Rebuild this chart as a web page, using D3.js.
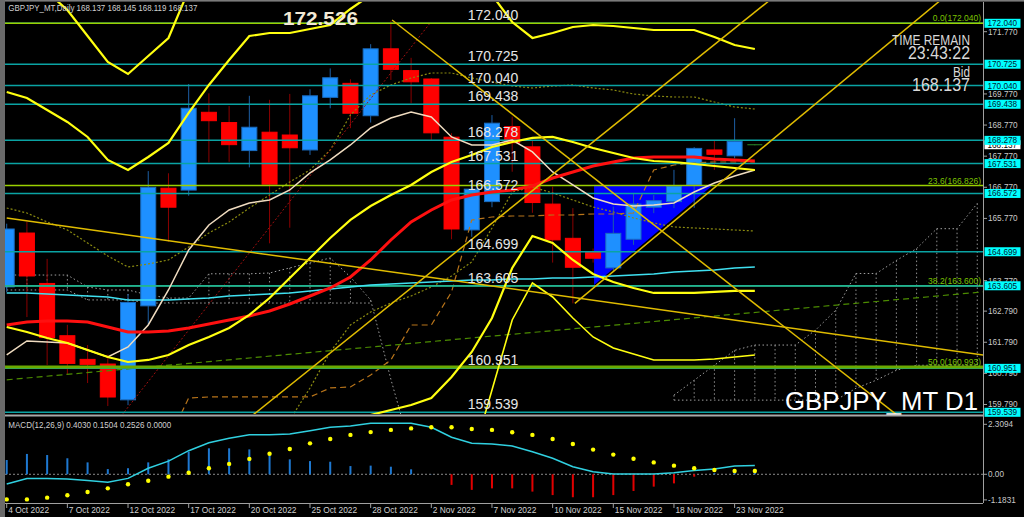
<!DOCTYPE html>
<html><head><meta charset="utf-8">
<script src="https://cdn.jsdelivr.net/npm/d3@7"></script>
<style>
html,body{margin:0;padding:0;background:#000;overflow:hidden;}
svg{display:block;}
text{font-family:"Liberation Sans",Arial,sans-serif;}
</style></head><body>
<svg id="c" width="1024" height="517"></svg>
<script>
// ---------------- DATA ----------------
const tickIdx = [0,3,6,9,12,15,18,21,24,27,30,33,36];
const tickLabels = ["4 Oct 2022","7 Oct 2022","12 Oct 2022","17 Oct 2022","20 Oct 2022","25 Oct 2022","28 Oct 2022","2 Nov 2022","7 Nov 2022","10 Nov 2022","15 Nov 2022","18 Nov 2022","23 Nov 2022"];
const open  = [163.57,165.30,163.68,162.00,161.24,161.09,159.94,162.96,166.74,166.68,169.18,168.85,167.95,168.54,168.45,167.97,169.66,170.11,169.07,171.22,170.52,170.25,168.38,165.40,166.31,168.72,168.07,166.23,165.13,164.67,164.18,165.10,166.13,166.31,166.84,167.97,167.78,168.137];
const high  = [165.60,165.66,164.47,162.35,161.70,161.39,163.34,167.29,167.22,170.09,169.79,169.38,169.71,169.58,169.77,169.92,170.59,170.24,171.37,172.12,170.93,170.28,168.51,166.81,169.09,169.04,168.31,166.79,166.10,164.80,166.15,166.59,166.52,167.33,168.06,168.27,168.99,168.145];
const low   = [163.40,162.60,161.06,160.77,160.48,159.74,159.77,162.35,165.02,166.50,167.57,167.59,167.41,164.97,165.47,167.81,169.31,168.67,168.85,170.22,169.47,168.29,165.10,165.18,166.13,167.27,165.95,164.35,163.04,164.35,164.05,164.92,165.94,166.10,166.11,167.33,167.70,168.119];
const close = [165.43,163.92,161.94,161.11,161.08,160.03,163.07,166.77,166.13,169.31,168.91,168.14,168.70,166.87,168.04,169.71,170.29,169.15,171.22,170.56,170.16,168.52,165.43,166.71,168.83,168.20,166.28,165.08,164.20,164.49,165.29,166.23,166.34,166.81,168.02,167.83,168.24,168.137];

const levels = [172.040,170.725,170.040,169.438,168.278,167.531,166.572,164.699,163.605,160.951,159.539];
const fibLevels = [172.040,166.826,163.600,160.993];
const fibLabels = ["0.0(172.040)","23.6(166.826)","38.2(163.600)","50.0(160.993)"];
const axisTicks = [171.770,169.770,168.770,167.770,166.770,165.770,163.770,162.790,161.790,160.790,159.790];
const bidPrice = 168.137;
const peakLabel = "172.526";

// indicator lines (price per bar, null = not drawn)
const bandA = [174.074,173.592,173.046,172.468,171.632,170.797,170.411,170.989,171.568,173.110,174.717];
const bandB = [169.833,169.640,169.254,168.869,168.387,167.648,167.326,167.744,168.194,169.158,170.058,170.861,171.632,171.729,171.729,171.857,171.986,172.500,172.950,173.432,173.753,173.753,173.592,173.271,172.950,172.082,171.568,171.729,171.921,171.986,171.954,171.889,171.825,171.825,171.825,171.600,171.343,171.214];
const bandC = [162.281,162.121,161.928,161.767,161.542,161.317,161.156,161.221,161.381,161.703,161.960,162.249,162.667,163.213,163.856,164.498,165.141,165.720,166.169,166.523,166.844,167.262,167.583,167.808,168.065,168.226,168.355,168.387,168.226,168.033,167.872,167.712,167.615,167.583,167.519,167.455,167.390,167.326];
const bandE = [null,null,null,null,null,null,null,null,null,null,null,null,null,null,null,null,null,158.971,159.453,159.614,159.775,160.000,160.674,161.478,162.570,164.177,165.205,164.980,164.434,163.984,163.727,163.534,163.374,163.374,163.374,163.406,163.438,163.438];
const bandF = [null,null,null,null,null,null,null,null,null,null,null,null,null,null,null,null,null,null,null,null,null,null,null,158.007,160.257,162.506,163.695,163.245,162.570,161.960,161.606,161.414,161.221,161.221,161.221,161.253,161.317,161.381];
const maRed = [162.345,162.442,162.474,162.474,162.442,162.281,162.121,162.121,162.153,162.249,162.378,162.506,162.635,162.795,163.020,163.277,163.534,163.888,164.434,165.077,165.655,166.041,166.362,166.523,166.619,166.684,166.812,167.069,167.262,167.455,167.583,167.712,167.744,167.744,167.744,167.680,167.648,167.615];
const maBeige = [161.381,161.831,161.799,161.767,161.542,161.317,161.639,162.345,163.470,164.755,165.559,166.041,166.266,166.362,166.684,167.230,167.648,168.130,168.676,168.997,169.190,169.029,168.387,168.130,168.130,168.290,167.905,167.262,166.844,166.426,166.234,166.169,166.202,166.266,166.619,166.908,167.133,167.326];
const maCyan = [163.374,163.374,163.342,163.309,163.277,163.245,163.149,163.149,163.149,163.181,163.213,163.277,163.309,163.342,163.374,163.438,163.502,163.567,163.631,163.663,163.695,163.727,163.759,163.791,163.791,163.824,163.824,163.856,163.856,163.888,163.920,163.952,163.984,164.048,164.080,164.113,164.177,164.209];
const oliveDot1 = [166.105,165.944,165.655,165.398,164.980,164.563,164.209,164.306,164.434,164.852,165.302,165.655,166.105,166.523,166.941,167.326,167.969,169.094,169.736,170.058,170.283,170.443,170.443,170.283,170.154,170.025,169.961,170.025,170.058,169.961,169.897,169.768,169.704,169.672,169.672,169.511,169.351,169.286];
const oliveDot2 = [null,null,null,null,null,null,null,null,null,null,null,null,null,null,159.293,160.321,161.478,162.345,162.763,163.052,163.277,163.567,163.920,164.370,165.462,166.619,166.780,166.587,166.362,166.137,165.977,165.784,165.623,165.495,165.462,165.430,165.398,165.366];
const kijun = [null,null,null,null,null,null,null,null,158.650,160.000,160.032,160.032,160.032,160.032,160.032,160.032,160.321,160.353,160.739,161.221,162.345,162.345,163.406,165.720,165.816,165.848,165.848,165.880,165.880,165.912,165.912,165.944,167.326,167.487,167.551,167.583,167.583,167.583];
// cloud (grey dotted), bars 0..48
const spanA = [163.950,163.950,163.950,163.950,163.566,163.470,163.470,163.310,163.210,163.210,163.990,163.990,163.990,164.016,164.180,164.338,164.498,163.888,163.149,160.600,158.300,null,null,null,null,null,null,null,null,null,null,null,null,160.090,160.570,161.050,161.530,161.700,161.700,161.700,162.180,162.820,164.000,164.000,164.420,164.800,165.440,165.440,166.250];
const spanB = [163.470,163.470,163.470,163.470,163.150,163.150,163.150,163.050,163.050,163.050,163.050,163.050,163.050,163.050,163.050,163.050,163.050,163.050,163.050,null,null,null,null,null,null,null,null,null,null,null,null,null,null,159.930,159.930,159.930,159.930,159.930,159.930,159.930,159.930,159.930,160.310,160.570,160.890,161.050,161.050,161.050,161.050];

// trendline objects: [bar1, price1, bar2, price2]
const trendGold = [[19.06,172.146,44.03,159.453],[0,165.784,48.3,161.381],[28.1,163.04,46.2,172.789],[12.18,159.453,37.75,172.789]];
const trendRedDot = [[5.70,159.453,20.93,172.040]];
const trendGreenDash = [[0,160.583,48.3,163.410]];
const triangle = [[29.05,166.844],[34.93,166.844],[29.05,163.631]];

// MACD
const macdHist = [0.66,0.94,0.89,0.74,0.55,0.24,0.28,0.55,0.69,1.04,1.20,1.20,1.15,0.92,0.69,0.61,0.58,0.38,0.40,0.35,0.23,0.01,-0.49,-0.72,-0.65,-0.65,-0.80,-0.96,-1.06,-1.06,-0.96,-0.77,-0.57,-0.42,-0.11,0.05,0.22,0.2526];
const macdLine = [-0.45,-0.19,-0.19,-0.22,-0.29,-0.37,-0.19,0.28,0.61,1.09,1.46,1.66,1.83,1.83,1.86,2.01,2.17,2.23,2.36,2.36,2.36,2.17,1.71,1.43,1.40,1.31,1.04,0.74,0.35,0.12,0.01,0.01,0.01,0.07,0.17,0.24,0.38,0.4030];
const macdSignal = [-1.16,-1.16,-1.08,-0.97,-0.82,-0.65,-0.46,-0.30,-0.11,0.07,0.28,0.48,0.71,0.95,1.17,1.43,1.63,1.82,1.95,2.05,2.12,2.17,2.17,2.09,2.05,1.94,1.82,1.63,1.40,1.14,0.91,0.72,0.55,0.40,0.28,0.20,0.15,0.1504];
const macdTicks = [2.3094,0.00,-1.1831];
const macdTickLabels = ["2.3094","0.00","-1.1831"];

// ---------------- LAYOUT ----------------
const PL=5, PR=983, PT=2, PB=414, MT=417, MB=503;
const svg = d3.select("#c");
const x = d3.scaleLinear().domain([0,1]).range([6.7,26.92]);
const y = d3.scaleLinear().domain([172.040,159.539]).range([23.3,412.3]);
const ym = d3.scaleLinear().domain([2.3094,-1.1831]).range([424.3,499.9]);

svg.append("rect").attr("width",1024).attr("height",517).attr("fill","#000");
const defs = svg.append("defs");
defs.append("clipPath").attr("id","cm").append("rect").attr("x",PL).attr("y",PT).attr("width",PR-PL).attr("height",PB-PT);
defs.append("clipPath").attr("id","cd").append("rect").attr("x",PL).attr("y",MT).attr("width",PR-PL).attr("height",MB-MT);

const gm = svg.append("g").attr("clip-path","url(#cm)");
const line = arr => d3.line().defined(d=>d!=null).x((d,i)=>x(i)).y(d=>y(d))(arr);

// cloud (grey dotted)
[spanA,spanB].forEach(s=>gm.append("path").attr("d",line(s)).attr("fill","none").attr("stroke","#a0a0a0").attr("stroke-width",1).attr("stroke-dasharray","1.5,2.5"));
spanA.forEach((a,i)=>{ const b=spanB[i]; if(a!=null&&b!=null){ gm.append("line").attr("x1",x(i)).attr("x2",x(i)).attr("y1",y(a)).attr("y2",y(b)).attr("stroke","#909090").attr("stroke-width",1).attr("stroke-dasharray","1.5,2.5"); }});

// triangle (background object)
gm.append("path").attr("d",d3.line().x(d=>x(d[0])).y(d=>y(d[1]))(triangle)+"Z").attr("fill","#0000ff");

// candles
const idx = d3.range(open.length);
const gc = gm.append("g");
idx.forEach(i=>{
  const up = close[i]>open[i], doji = close[i]===open[i];
  gc.append("line").attr("x1",x(i)).attr("x2",x(i)).attr("y1",y(high[i])).attr("y2",y(low[i]))
    .attr("stroke", doji?"#2a8a2a":(up?"#1d5fa5":"#8b0000")).attr("stroke-width",1);
  if(doji){
    gc.append("line").attr("x1",x(i)-7.5).attr("x2",x(i)+7.5).attr("y1",y(open[i])).attr("y2",y(open[i])).attr("stroke","#2a8a2a").attr("stroke-width",1);
  } else {
    const t=y(Math.max(open[i],close[i])), b=y(Math.min(open[i],close[i]));
    gc.append("rect").attr("x",x(i)-7.5).attr("y",t).attr("width",15).attr("height",Math.max(1,b-t))
      .attr("fill",up?"#1e90ff":"#ff0000").attr("stroke",up?"#1a6cc0":"#ff0000").attr("stroke-width",1);
  }
});

// dotted / dashed indicator lines
gm.append("path").attr("d",line(oliveDot1)).attr("fill","none").attr("stroke","#8a8a10").attr("stroke-width",1.2).attr("stroke-dasharray","2,2");
gm.append("path").attr("d",line(oliveDot2)).attr("fill","none").attr("stroke","#8a8a10").attr("stroke-width",1.2).attr("stroke-dasharray","2,2");
gm.append("path").attr("d",line(kijun)).attr("fill","none").attr("stroke","#b8741a").attr("stroke-width",1.2).attr("stroke-dasharray","6,4");
const seg = (t,col,w,dash)=>{ const [i1,p1,i2,p2]=t; const el=gm.append("line").attr("x1",x(i1)).attr("y1",y(p1)).attr("x2",x(i2)).attr("y2",y(p2)).attr("stroke",col).attr("stroke-width",w); if(dash) el.attr("stroke-dasharray",dash); };
trendRedDot.forEach(t=>seg(t,"#a01010",1,"2,2"));
trendGreenDash.forEach(t=>seg(t,"#4c8c00",1.2,"6,4"));

// horizontal levels
levels.forEach(p=>gm.append("line").attr("x1",PL).attr("x2",PR).attr("y1",y(p)).attr("y2",y(p)).attr("stroke","#0aa3a3").attr("stroke-width",1.5));
fibLevels.forEach((p,k)=>gm.append("line").attr("x1",PL).attr("x2",PR).attr("y1",y(p)).attr("y2",y(p))
  .attr("stroke", k===3?"#6aaa00":(k===2?"#2ab88a":"#9ad000")).attr("stroke-width",k===3?3:1.5));

// moving averages / bands
gm.append("path").attr("d",line(maCyan)).attr("fill","none").attr("stroke","#3fe0f0").attr("stroke-width",1.5);
gm.append("path").attr("d",line(maBeige)).attr("fill","none").attr("stroke","#f0dcc0").attr("stroke-width",1.5);
gm.append("path").attr("d",line(maRed)).attr("fill","none").attr("stroke","#ff1010").attr("stroke-width",3);
[bandA,bandB,bandC,bandE,bandF].forEach((b,k)=>gm.append("path").attr("d",line(b)).attr("fill","none").attr("stroke","#ffff10").attr("stroke-width",k===4?1.6:2.2));
trendGold.forEach(t=>seg(t,"#e0bc00",1.5,null));

// level texts
levels.forEach(p=>gm.append("text").attr("x",467.7).attr("y",y(p)-3).attr("fill","#e6e6e6").attr("font-size",14).text(p.toFixed(3)));
fibLevels.forEach((p,k)=>gm.append("text").attr("x",981).attr("y",y(p)-2).attr("text-anchor","end").attr("fill","#7cc400").attr("font-size",8.5).text(fibLabels[k]));
gm.append("text").attr("x",283).attr("y",25).attr("fill","#f3ead6").attr("font-size",18).attr("font-weight","bold").attr("textLength",75).attr("lengthAdjust","spacingAndGlyphs").text(peakLabel);

// info texts
const info=[["TIME REMAIN",45,15,78],["23:43:22",59.3,18,62],["Bid",76.7,15,17],[bidPrice.toFixed(3),90.7,18,58]];
info.forEach(d=>svg.append("text").attr("x",970).attr("y",d[1]).attr("text-anchor","end").attr("fill","#d8d8d8").attr("font-size",d[2]).attr("textLength",d[3]).attr("lengthAdjust","spacingAndGlyphs").text(d[0]));
svg.append("text").attr("x",785).attr("y",409.5).attr("fill","#ffffff").attr("font-size",25).attr("textLength",193).attr("lengthAdjust","spacingAndGlyphs").text("GBPJPY_MT D1");
svg.append("text").attr("x",8.3).attr("y",10.5).attr("fill","#d0d0d0").attr("font-size",8.5).attr("textLength",189).attr("lengthAdjust","spacingAndGlyphs")
  .text("GBPJPY_MT,Daily  "+[open[37],high[37],low[37],close[37]].map(v=>v.toFixed(3)).join(" "));

// frame
svg.append("rect").attr("x",0).attr("y",0).attr("width",1024).attr("height",1.6).attr("fill","#7a7a7a");
svg.append("rect").attr("x",0).attr("y",0).attr("width",5).attr("height",517).attr("fill","#6a6a6a");
svg.append("line").attr("x1",PR+0.5).attr("x2",PR+0.5).attr("y1",PT).attr("y2",MB).attr("stroke","#a0a0a0").attr("stroke-width",1);
svg.append("line").attr("x1",PL).attr("x2",PR).attr("y1",415.5).attr("y2",415.5).attr("stroke","#a8a8a8").attr("stroke-width",2);
svg.append("line").attr("x1",PL).attr("x2",PR).attr("y1",MB+0.5).attr("y2",MB+0.5).attr("stroke","#a0a0a0").attr("stroke-width",1);

// right axis
const ga = svg.append("g");
axisTicks.forEach(v=>{
  ga.append("line").attr("x1",PR).attr("x2",PR+4).attr("y1",y(v)).attr("y2",y(v)).attr("stroke","#a0a0a0");
  ga.append("text").attr("x",988).attr("y",y(v)+3).attr("fill","#c8c8c8").attr("font-size",8.2).text(v.toFixed(3));
});
// bid box
ga.append("rect").attr("x",984.5).attr("y",y(bidPrice)-4.5).attr("width",36).attr("height",9).attr("fill","#ffffff");
ga.append("text").attr("x",987.5).attr("y",y(bidPrice)+3).attr("fill","#000").attr("font-size",8.2).text(bidPrice.toFixed(3));
levels.forEach(p=>{
  ga.append("rect").attr("x",984.5).attr("y",y(p)-4.5).attr("width",36).attr("height",9).attr("fill","#00ffff");
  ga.append("text").attr("x",987.5).attr("y",y(p)+3).attr("fill","#002030").attr("font-size",8.2).text(p.toFixed(3));
});

// MACD panel
const gd = svg.append("g").attr("clip-path","url(#cd)");
gd.append("line").attr("x1",PL).attr("x2",PR).attr("y1",ym(0)).attr("y2",ym(0)).attr("stroke","#8a8a8a").attr("stroke-dasharray","2,2");
macdHist.forEach((v,i)=>gd.append("rect").attr("x",x(i)-1).attr("width",2).attr("y",Math.min(ym(v),ym(0))).attr("height",Math.abs(ym(v)-ym(0)))
  .attr("fill",v>=0?"#1e78d0":"#e00000"));
gd.append("path").attr("d",d3.line().x((d,i)=>x(i)).y(d=>ym(d))(macdLine)).attr("fill","none").attr("stroke","#30d0e0").attr("stroke-width",1.5);
macdSignal.forEach((v,i)=>gd.append("circle").attr("cx",x(i)).attr("cy",ym(v)).attr("r",2.2).attr("fill","#ffff00"));
svg.append("text").attr("x",8.3).attr("y",427.5).attr("fill","#d0d0d0").attr("font-size",8.5).attr("textLength",163).attr("lengthAdjust","spacingAndGlyphs")
  .text("MACD(12,26,9) "+[macdLine[37],macdSignal[37],macdHist[37],0].map(v=>v.toFixed(4)).join(" "));
macdTicks.forEach((v,k)=>{
  svg.append("line").attr("x1",PR).attr("x2",PR+4).attr("y1",ym(v)).attr("y2",ym(v)).attr("stroke","#a0a0a0");
  svg.append("text").attr("x",988).attr("y",ym(v)+3).attr("fill","#c8c8c8").attr("font-size",8.2).text(macdTickLabels[k]);
});

// x axis
tickIdx.forEach((i,k)=>{
  svg.append("line").attr("x1",x(i)).attr("x2",x(i)).attr("y1",MB).attr("y2",MB+5).attr("stroke","#a0a0a0");
  svg.append("text").attr("x",x(i)+1.5).attr("y",513).attr("fill","#d0d0d0").attr("font-size",8.4).text(tickLabels[k]);
});
</script>
</body></html>
